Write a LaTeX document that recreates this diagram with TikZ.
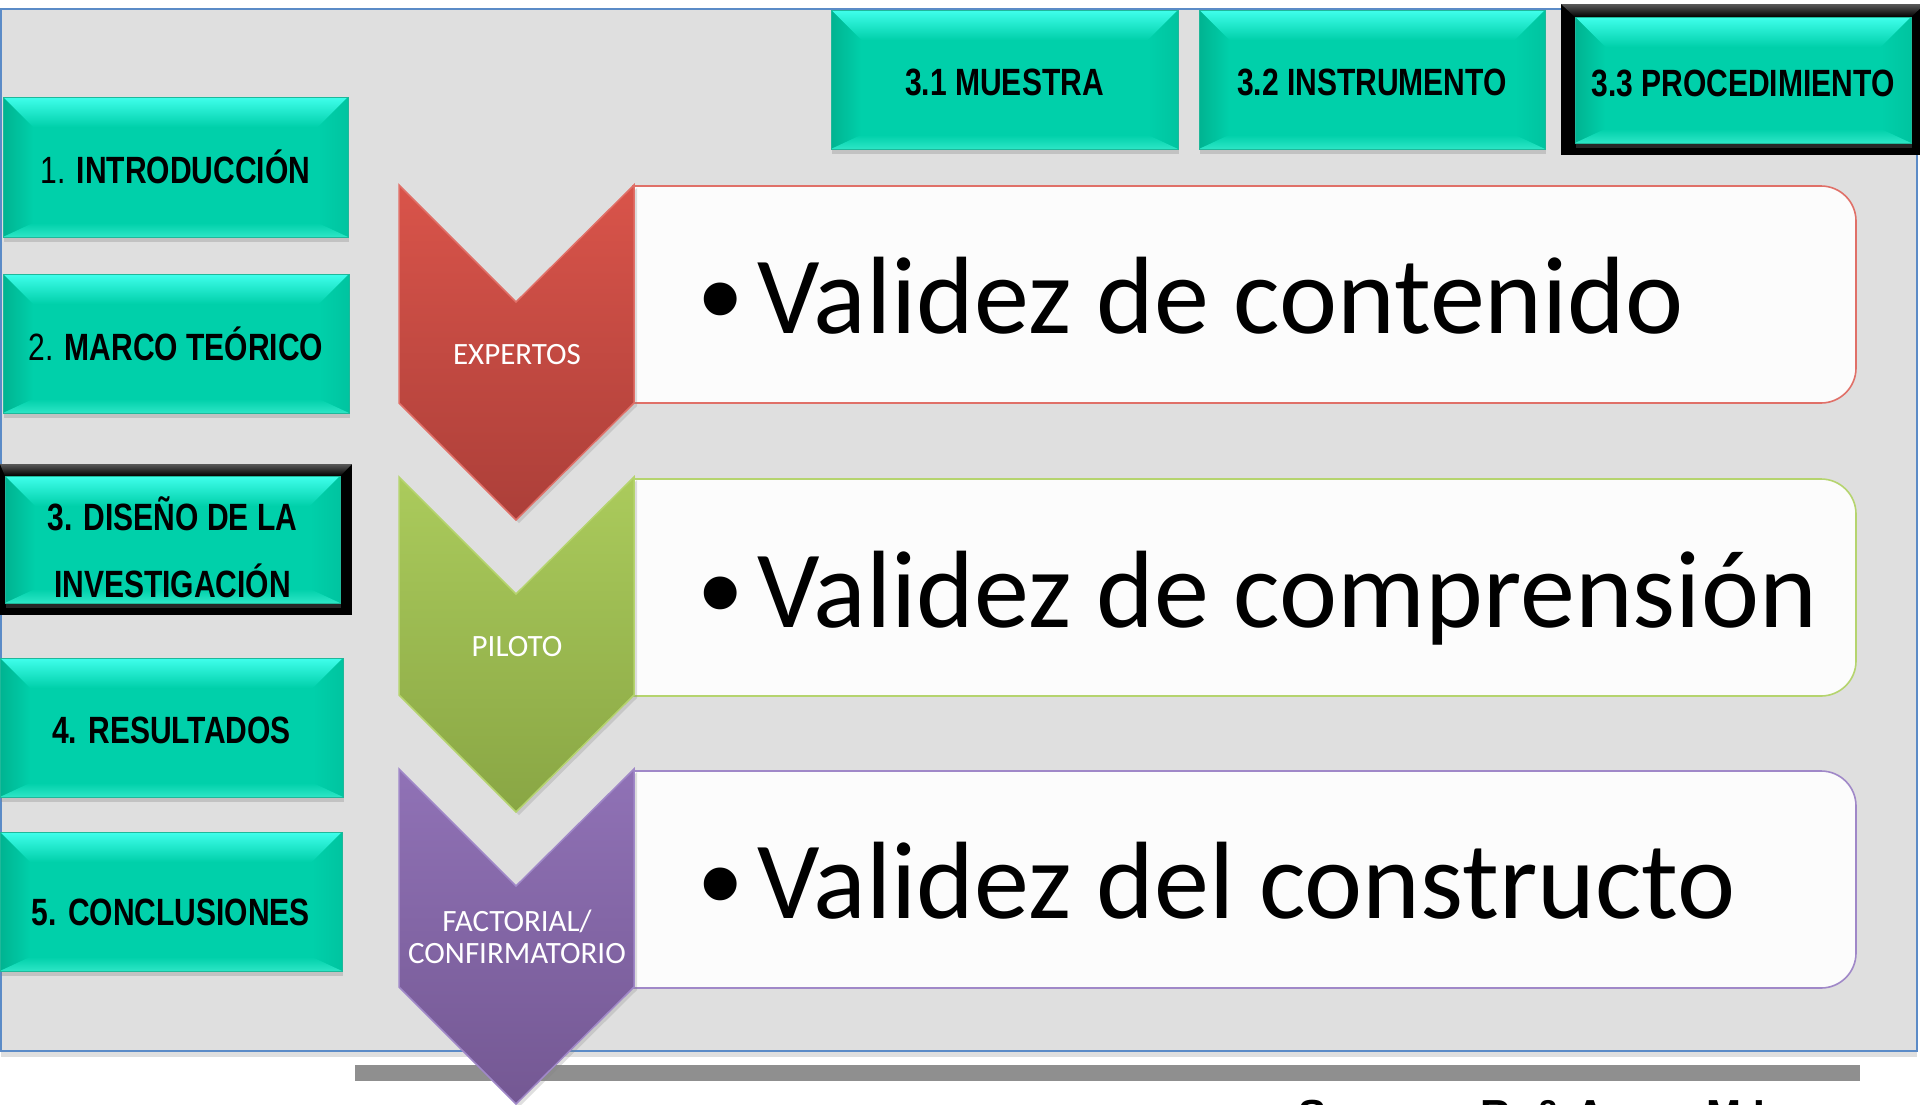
\documentclass[tikz,border=0pt]{standalone}
\usepackage{fontspec}
\setmainfont{Carlito}
\newfontfamily\arial{Liberation Sans}
\newfontfamily\arialn[FakeStretch=0.79]{Liberation Sans}
\usetikzlibrary{shadows}

\definecolor{fondo}{HTML}{DFDFDF}
\definecolor{marco}{HTML}{5B8BC7}
\definecolor{barra}{HTML}{8F8F8F}
\definecolor{turquesa}{HTML}{00D0AA}
\definecolor{turqclaro}{HTML}{40FFEC}
\definecolor{turqoscuro}{HTML}{00B391}
\definecolor{turqdere}{HTML}{00C4A0}
\definecolor{turqbajo}{HTML}{2DE6C6}
\definecolor{turqborde}{HTML}{1FB89A}
\definecolor{rojoA}{HTML}{D9544A}
\definecolor{rojoB}{HTML}{AC3F39}
\definecolor{rojoL}{HTML}{E07068}
\definecolor{verdeA}{HTML}{ABCB5C}
\definecolor{verdeB}{HTML}{89A644}
\definecolor{verdeL}{HTML}{B5D46E}
\definecolor{moradoA}{HTML}{9072B6}
\definecolor{moradoB}{HTML}{745893}
\definecolor{moradoL}{HTML}{A088C8}
\definecolor{blanco}{HTML}{FCFCFC}

\newcommand\vineta{\raisebox{-6pt}{\arial\fontsize{121}{121}\selectfont •}\hspace{16pt}}

\begin{document}
\begin{tikzpicture}[x=1pt,y=-1pt,
  seccion/.style={rectangle, draw=turqborde, line width=.8pt, fill=turquesa,
    inner sep=0pt, text depth=0pt, align=center,
    font=\arialn\fontsize{38}{67}\selectfont,
    drop shadow={shadow xshift=1pt, shadow yshift=-5pt, opacity=.3},
    path picture={
      \path (path picture bounding box.north west) coordinate (pnw)
            (path picture bounding box.north east) coordinate (pne)
            (path picture bounding box.south west) coordinate (psw)
            (path picture bounding box.south east) coordinate (pse);
      \shade[top color=turqclaro, bottom color=turquesa] (pnw) -- (pne) -- ([shift={(-30pt,-30pt)}]pne) -- ([shift={(30pt,-30pt)}]pnw) -- cycle;
      \shade[left color=turqoscuro, right color=turquesa] (pnw) -- ([shift={(30pt,-30pt)}]pnw) -- ([shift={(30pt,14pt)}]psw) -- (psw) -- cycle;
      \shade[left color=turquesa, right color=turqdere] (pne) -- ([shift={(-30pt,-30pt)}]pne) -- ([shift={(-30pt,14pt)}]pse) -- (pse) -- cycle;
      \shade[top color=turquesa, bottom color=turqbajo] (psw) -- ([shift={(30pt,14pt)}]psw) -- ([shift={(-30pt,14pt)}]pse) -- (pse) -- cycle;
    }},
  activo/.style={fill=black},
  chevron/.style n args={3}{top color=#1, bottom color=#2, draw=#3, line width=1.5pt,
    drop shadow={shadow xshift=3pt, shadow yshift=-3pt, opacity=.25}},
  caja/.style={fill=blanco, line width=1.6pt},
  etiqueta/.style={text=white, align=center, inner sep=0pt, font=\fontsize{31}{32}\selectfont},
  punto/.style={anchor=base west, inner sep=0pt, font=\fontsize{110}{120}\selectfont}
]
\useasboundingbox (0,0) rectangle (1920,1104);
\fill[white] (0,0) rectangle (1920,1104);

\draw[fill=fondo, draw=marco, line width=2.5pt, drop shadow={shadow xshift=0pt, shadow yshift=-6pt, opacity=.25}] (1,9) rectangle (1917,1051);
\fill[barra] (355,1065) rectangle (1860,1081);

% secciones
\fill[activo] (0,464) rectangle (352,615);
\shade[top color=black!65, bottom color=black] (0,464) -- (352,464) -- (340,476) -- (5,476) -- cycle;
\fill[activo] (1561,4) rectangle (1925,155);
\shade[top color=black!65, bottom color=black] (1561,4) -- (1925,4) -- (1911,17) -- (1575,17) -- cycle;

\node[seccion, minimum width=345pt, minimum height=140pt] (intro) at (175.5,167) {1. \textbf{INTRODUCCIÓN}};
\node[seccion, minimum width=346pt, minimum height=139pt] (marco) at (176,343.5) {2. \textbf{MARCO TEÓRICO}};
\node[seccion, minimum width=335pt, minimum height=127pt, text height=116pt, drop shadow={opacity=0}] (diseno) at (172.5,539.5) {\textbf{3. DISEÑO DE LA}\\\textbf{INVESTIGACIÓN}};
\node[seccion, minimum width=343pt, minimum height=139pt, text height=32pt] (result) at (171.5,727.5) {\textbf{4. RESULTADOS}};
\node[seccion, minimum width=342pt, minimum height=139pt, text height=47pt] (concl) at (171,901.5) {\textbf{5. CONCLUSIONES}};

\node[seccion, minimum width=347pt, minimum height=139pt, text height=32pt] (muestra) at (1004.5,79.5) {\textbf{3.1 MUESTRA}};
\node[seccion, minimum width=346pt, minimum height=139pt, text height=32pt] (instru) at (1372,79.5) {\textbf{3.2 INSTRUMENTO}};
\node[seccion, minimum width=336pt, minimum height=126pt, text height=32pt, drop shadow={opacity=0}] (proced) at (1743,80) {\textbf{3.3 PROCEDIMIENTO}};

% cajas
\draw[caja, draw=rojoL] (633,186) -- (1821,186) arc[start angle=-90, end angle=0, radius=35] -- (1856,368) arc[start angle=0, end angle=90, radius=35] -- (633,403) -- cycle;
\draw[caja, draw=verdeL] (633,479) -- (1821,479) arc[start angle=-90, end angle=0, radius=35] -- (1856,661) arc[start angle=0, end angle=90, radius=35] -- (633,696) -- cycle;
\draw[caja, draw=moradoL] (633,771) -- (1821,771) arc[start angle=-90, end angle=0, radius=35] -- (1856,953) arc[start angle=0, end angle=90, radius=35] -- (633,988) -- cycle;

\node[punto] (contenido) at (699,333) {\vineta Validez de contenido};
\node[punto] (comprension) at (699,627) {\vineta Validez de comprensión};
\node[punto] (constructo) at (699,918) {\vineta Validez del constructo};

% chevrons
\draw[chevron={rojoA}{rojoB}{rojoL}] (399,185) -- (516,302) -- (634,185) -- (634,403) -- (516,520) -- (399,403) -- cycle;
\draw[chevron={verdeA}{verdeB}{verdeL}] (399,477) -- (516,594) -- (634,477) -- (634,695) -- (516,812) -- (399,695) -- cycle;
\draw[chevron={moradoA}{moradoB}{moradoL}] (399,769) -- (516,886) -- (634,769) -- (634,987) -- (516,1104) -- (399,987) -- cycle;

\node[etiqueta] (expertos) at (517,355) {EXPERTOS};
\node[etiqueta] (piloto) at (517,647) {PILOTO};
\node[etiqueta] (factorial) at (517,937) {FACTORIAL/\\CONFIRMATORIO};

\node[anchor=base west, inner sep=0pt, font=\arial\bfseries\fontsize{42}{50}\selectfont] (autores) at (1298,1129) {Serrano, R. \& Amor, M.I.};
\end{tikzpicture}
\end{document}
